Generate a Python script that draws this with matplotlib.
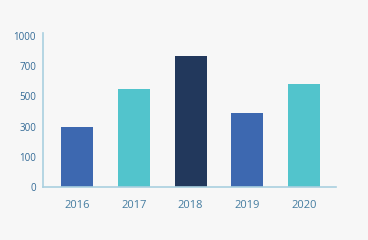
import numpy as np
import matplotlib
matplotlib.use("Agg")
import matplotlib.pyplot as plt

years = ["2016", "2017", "2018", "2019", "2020"]
values = [300, 550, 800, 390, 580]
bar_colors = ["#3d68b0", "#52c4cc", "#22385c", "#3d68b0", "#52c4cc"]
y_ticks = [0, 100, 300, 500, 700, 1000]

# uneven axis: tick values sit at equal spacing, linear in between
scale_vals = [-100, 0, 100, 300, 500, 700, 1000, 1300]
scale_pos = [-1, 0, 1, 2, 3, 4, 5, 6]

def fwd(v):
    return np.interp(v, scale_vals, scale_pos)

def inv(p):
    return np.interp(p, scale_pos, scale_vals)

bg = "#f7f7f7"
fig = plt.figure(figsize=(3.68, 2.4), dpi=100, facecolor=bg)
ax = fig.add_axes([43 / 368, (240 - 187) / 240, (336 - 43) / 368, (187 - 33) / 240])
ax.set_facecolor(bg)
ax.set_yscale("function", functions=(fwd, inv))

x = np.arange(len(years))
ax.bar(x, values, width=0.565, color=bar_colors)

ax.set_xlim(-0.6, 4.56)
ax.set_ylim(0, 1030)
ax.set_yticks(y_ticks)
ax.set_yticklabels([str(t) for t in y_ticks])
ax.yaxis.set_minor_locator(matplotlib.ticker.NullLocator())
ax.set_xticks(x)
ax.set_xticklabels(years)

for s in ["top", "right"]:
    ax.spines[s].set_visible(False)
for s in ["left", "bottom"]:
    ax.spines[s].set_color("#a9d0df")
    ax.spines[s].set_linewidth(1.2)

ax.tick_params(axis="y", length=0, pad=5, labelsize=7, labelcolor="#336a96")
ax.tick_params(axis="x", length=0, pad=9, labelsize=8, labelcolor="#447ca0")
for lab in ax.get_xticklabels() + ax.get_yticklabels():
    lab.set_fontfamily("Open Sans")

fig.savefig("out.png", dpi=100, facecolor=bg)
